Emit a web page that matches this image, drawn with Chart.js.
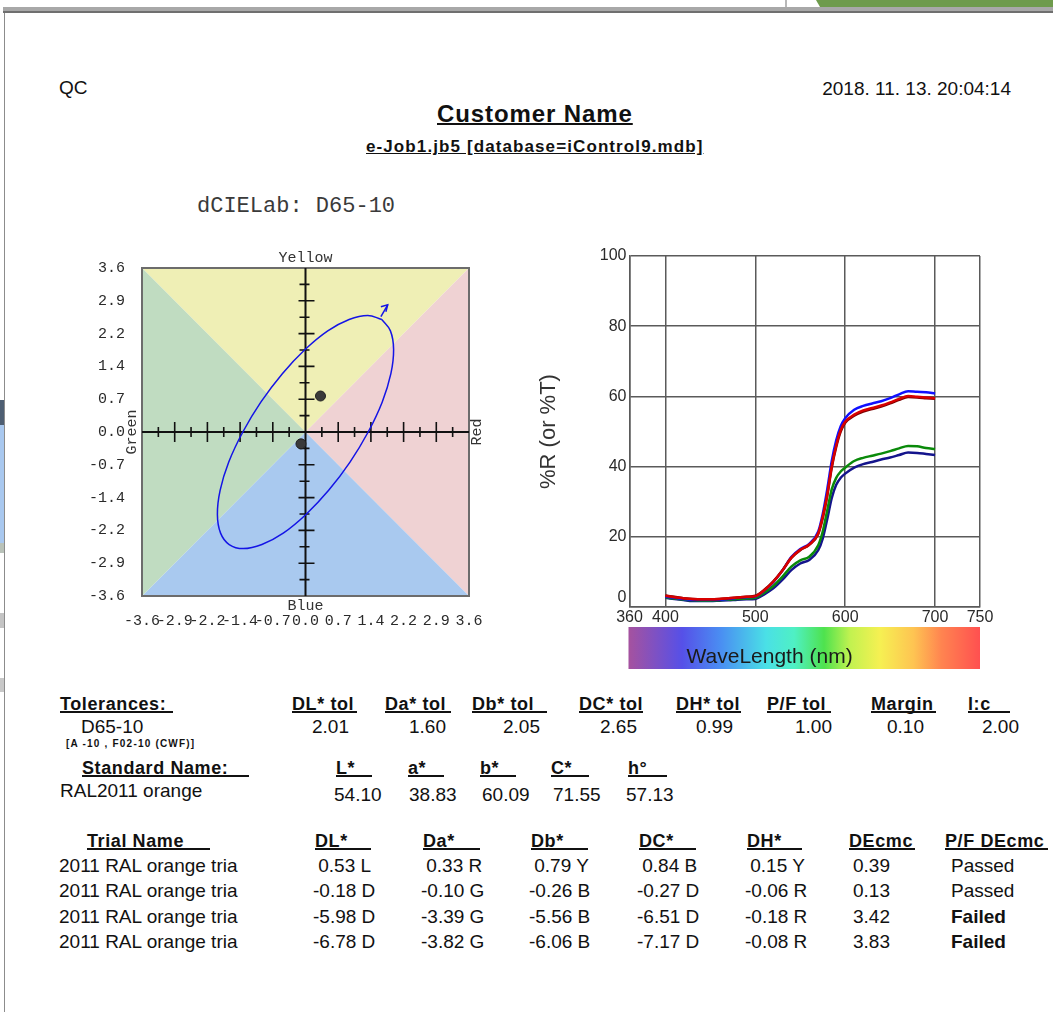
<!DOCTYPE html>
<html>
<head>
<meta charset="utf-8">
<script src="https://cdn.jsdelivr.net/npm/chart.js@4.4.1/dist/chart.umd.min.js"></script>
<style>
body{margin:0;width:1053px;height:1012px;position:relative;overflow:hidden;background:#fff;font-family:"Liberation Sans",Arial,sans-serif;color:#111}
.t{position:absolute;white-space:pre;line-height:22px;font-size:19px}
.h{position:absolute;white-space:pre;line-height:14px;font-size:18px;font-weight:bold;letter-spacing:0.6px;border-bottom:2px solid #111}
.f{position:absolute}
canvas{position:absolute}
</style>
</head>
<body>
<!-- window frame bits -->
<div class="f" style="left:785px;top:0;width:2px;height:7px;background:#b8b8b8"></div>
<div class="f" style="left:816px;top:0;width:237px;height:7px;background:#6e9b4c;clip-path:polygon(0 0,100% 0,100% 100%,4px 100%)"></div>
<div class="f" style="left:3px;top:7px;width:1050px;height:4px;background:#a8a8a8"></div>
<div class="f" style="left:3px;top:11px;width:1050px;height:2px;background:#6f6f6f"></div>
<div class="f" style="left:4px;top:13px;width:1px;height:999px;background:#8c8c8c"></div>
<div class="f" style="left:0;top:400px;width:4px;height:25px;background:#4e5e72"></div>
<div class="f" style="left:0;top:425px;width:4px;height:118px;background:#a9c8ef"></div>
<div class="f" style="left:0;top:543px;width:4px;height:10px;background:#b9c2b9"></div>
<div class="f" style="left:0;top:613px;width:4px;height:15px;background:#c4c4c4"></div>
<div class="f" style="left:0;top:678px;width:4px;height:14px;background:#c8c8c8"></div>

<div class="t" style="left:59px;top:77px">QC</div>
<div class="t" style="right:42px;top:78px">2018. 11. 13. 20:04:14</div>
<div class="t" style="left:437px;top:100px;font-size:24px;line-height:28px;font-weight:bold;letter-spacing:0.9px;text-decoration:underline;text-decoration-thickness:2px">Customer Name</div>
<div class="t" style="left:366px;top:138px;font-size:17px;line-height:18px;font-weight:bold;letter-spacing:1.1px;text-decoration:underline">e-Job1.jb5 [database=iControl9.mdb]</div>
<div class="t" style="left:197px;top:195px;font-family:'Liberation Mono',monospace;font-size:22px;line-height:24px;color:#3a3a3a">dCIELab: D65-10</div>

<canvas id="ab" width="470" height="400" style="left:40px;top:240px"></canvas>
<canvas id="spec" width="470" height="440" style="left:530px;top:240px"></canvas>

<script>
// ---- data ----
var abTicks = [-3.6, -2.88, -2.16, -1.44, -0.72, 0, 0.72, 1.44, 2.16, 2.88, 3.6];
// tolerance ellipse
var ellX = [1.68,1.37,0.96,0.49,-0.01,-0.51,-0.98,-1.38,-1.69,-1.88,-1.94,-1.87,-1.68,-1.37,-0.96,-0.49,0.01,0.51,0.98,1.38,1.69,1.88,1.94,1.87,1.68];
var ellY = [2.47,2.56,2.47,2.22,1.81,1.28,0.66,0.00,-0.66,-1.28,-1.81,-2.22,-2.47,-2.56,-2.47,-2.22,-1.81,-1.28,-0.66,0.00,0.66,1.28,1.81,2.22,2.47];
var arrowX = [1.66, 1.81];
var arrowY = [2.53, 2.79];
var headX = [1.66, 1.81, 1.77];
var headY = [2.75, 2.79, 2.64];

var tolHeaders = ['DL* tol','Da* tol','Db* tol','DC* tol','DH* tol','P/F tol','Margin','l:c'];
var tolValues = [2.01, 1.60, 2.05, 2.65, 0.99, 1.00, 0.10, 2.00];
var stdHeaders = ['L*','a*','b*','C*','h°'];
var stdValues = [54.10, 38.83, 60.09, 71.55, 57.13];
var trialHeaders = ['DL*','Da*','Db*','DC*','DH*','DEcmc','P/F DEcmc'];
var trialNames = ['2011 RAL orange tria','2011 RAL orange tria','2011 RAL orange tria','2011 RAL orange tria'];
var trialDL = [0.53, -0.18, -5.98, -6.78], tagDL = ['L','D','D','D'];
var trialDa = [0.33, -0.10, -3.39, -3.82], tagDa = ['R','G','G','G'];
var trialDb = [0.79, -0.26, -5.56, -6.06], tagDb = ['Y','B','B','B'];
var trialDC = [0.84, -0.27, -6.51, -7.17], tagDC = ['B','D','D','D'];
var trialDH = [0.15, -0.06, -0.18, -0.08], tagDH = ['Y','R','R','R'];
var trialDE = [0.39, 0.13, 3.42, 3.83];
var trialPF = ['Passed','Passed','Failed','Failed'];

var wlTicks = [360, 400, 500, 600, 700, 750];
var wl = [400,410,420,430,440,450,460,470,480,490,500,510,520,530,540,550,560,570,575,580,585,590,595,600,610,620,630,640,650,660,670,680,690,700];
var rStd = [3.2,2.8,2.5,2.3,2.2,2.2,2.3,2.5,2.7,2.9,3.1,4.8,7.2,10.3,14.0,16.3,17.8,21.0,25.7,32.0,40.0,46.0,50.4,52.8,54.8,56.0,56.7,57.4,58.3,59.3,60.1,59.9,59.7,59.5];
var rT1 = [2.9,2.6,2.3,2.0,2.0,2.0,2.1,2.3,2.6,2.8,3.0,4.7,7.1,10.3,14.2,16.5,18.0,21.5,26.5,33.5,41.5,47.5,51.5,53.8,56.2,57.3,58.0,58.6,59.5,60.6,61.5,61.3,61.2,60.8];
var rT2 = [3.3,2.9,2.5,2.3,2.2,2.2,2.3,2.5,2.7,2.9,3.2,4.9,7.3,10.4,14.0,16.2,17.7,20.8,25.3,31.6,39.6,45.6,50.0,52.5,54.5,55.7,56.4,57.1,58.0,59.0,59.8,59.7,59.5,59.3];
var rT3 = [2.8,2.4,2.1,1.9,1.8,1.8,1.9,2.1,2.3,2.4,2.6,4.1,6.0,8.6,11.5,13.3,14.3,17.6,21.5,27.5,33.5,36.8,38.6,39.7,41.6,42.5,43.1,43.7,44.4,45.2,45.9,45.8,45.3,45.0];
var rT4 = [2.6,2.3,2.0,1.7,1.7,1.7,1.8,1.9,2.1,2.2,2.3,3.6,5.3,7.7,10.5,12.4,13.4,16.2,19.5,25.0,31.0,34.8,36.8,38.0,39.7,40.7,41.3,42.0,42.6,43.3,44.0,43.9,43.6,43.3];

function pts(xs, ys) {
	return xs.map(function(v, i){ return {x: v, y: ys[i]}; });
}

// ---- text tables ----
function put(text, x, yc, size, bold) {
	var d = document.createElement('div');
	d.className = 't';
	d.textContent = text;
	d.style.left = x + 'px';
	d.style.top = (yc - 11) + 'px';
	if (size) d.style.fontSize = size + 'px';
	if (bold) d.style.fontWeight = 'bold';
	document.body.appendChild(d);
	return d;
}
function head(text, x, yc, xEnd) {
	var d = document.createElement('div');
	d.className = 'h';
	d.textContent = text;
	d.style.left = x + 'px';
	d.style.top = (yc - 7) + 'px';
	d.style.width = (xEnd - x) + 'px';
	document.body.appendChild(d);
}
function signed(v, tag) {
	return (v < 0 ? '' : ' ') + v.toFixed(2) + ' ' + tag;
}

head('Tolerances:', 60, 704, 173);
var tolX = [292, 385, 472, 579, 676, 767, 871, 968];
var tolEnd = [357, 451, 547, 643, 741, 831, 936, 1010];
var tolValX = [312, 409, 503, 600, 696, 795, 887, 982];
tolHeaders.forEach(function(h, i){
	head(h, tolX[i], 704, tolEnd[i]);
	put(tolValues[i].toFixed(2), tolValX[i], 727);
});
put('D65-10', 81, 727);
var sm = put('[A -10 , F02-10 (CWF)]', 66, 744, 10, true);
sm.style.letterSpacing = '1.2px';

head('Standard Name:', 82, 768, 249);
var stdX = [336, 408, 480, 551, 628];
var stdEnd = [372, 444, 516, 589, 667];
var stdValX = [334, 409, 482, 553, 626];
stdHeaders.forEach(function(h, i){
	head(h, stdX[i], 768, stdEnd[i]);
	put(stdValues[i].toFixed(2), stdValX[i], 795);
});
put('RAL2011 orange', 60, 791);

head('Trial Name', 87, 841, 210);
var trX = [315, 423, 531, 639, 747, 849, 945];
var trEnd = [371, 480, 588, 696, 802, 915, 1048];
trialHeaders.forEach(function(h, i){ head(h, trX[i], 841, trEnd[i]); });
var rowY = [866, 891, 916.5, 942];
var colX = [313, 421, 529, 637, 745];
trialNames.forEach(function(n, r){
	var y = rowY[r];
	put(n, 59, y);
	put(signed(trialDL[r], tagDL[r]), colX[0], y);
	put(signed(trialDa[r], tagDa[r]), colX[1], y);
	put(signed(trialDb[r], tagDb[r]), colX[2], y);
	put(signed(trialDC[r], tagDC[r]), colX[3], y);
	put(signed(trialDH[r], tagDH[r]), colX[4], y);
	put(trialDE[r].toFixed(2), 853, y);
	put(trialPF[r], 951, y, 19, trialPF[r] === 'Failed');
});

// ---- a*b* plot ----
var abBack = {
	id: 'abBack',
	beforeDatasetsDraw: function(chart) {
		var ctx = chart.ctx, xs = chart.scales.x, ys = chart.scales.y;
		var L = xs.getPixelForValue(abTicks[0]), R = xs.getPixelForValue(abTicks[abTicks.length - 1]);
		var T = ys.getPixelForValue(abTicks[abTicks.length - 1]), B = ys.getPixelForValue(abTicks[0]);
		var cx = xs.getPixelForValue(0), cy = ys.getPixelForValue(0);
		function tri(x1, y1, x2, y2, col) {
			ctx.beginPath(); ctx.moveTo(x1, y1); ctx.lineTo(x2, y2); ctx.lineTo(cx, cy); ctx.closePath();
			ctx.fillStyle = col; ctx.fill();
		}
		ctx.save();
		tri(L, T, R, T, '#efefb5');
		tri(R, T, R, B, '#efd2d3');
		tri(R, B, L, B, '#a9c9ef');
		tri(L, B, L, T, '#c0dcc1');
		ctx.strokeStyle = '#6c6c6c'; ctx.lineWidth = 2;
		ctx.strokeRect(L, T, R - L, B - T);
		ctx.strokeStyle = '#111'; ctx.lineWidth = 2;
		ctx.beginPath(); ctx.moveTo(L, cy); ctx.lineTo(R, cy); ctx.moveTo(cx, T); ctx.lineTo(cx, B); ctx.stroke();
		ctx.lineWidth = 1.6;
		ctx.beginPath();
		for (var i = 0; i < abTicks.length; i++) {
			var v = abTicks[i];
			if (i > 0 && i < abTicks.length - 1 && v !== 0) {
				var px = xs.getPixelForValue(v), py = ys.getPixelForValue(v);
				ctx.moveTo(px, cy - 10); ctx.lineTo(px, cy + 10);
				ctx.moveTo(cx - 7, py); ctx.lineTo(cx + 9, py);
			}
			if (i > 0) {
				var m = (abTicks[i - 1] + v) / 2;
				var mx = xs.getPixelForValue(m), my = ys.getPixelForValue(m);
				ctx.moveTo(mx, cy - 5); ctx.lineTo(mx, cy + 5);
				ctx.moveTo(cx - 6, my); ctx.lineTo(cx + 4, my);
			}
		}
		ctx.stroke();
		ctx.fillStyle = '#333';
		ctx.font = '15px "Liberation Mono"';
		ctx.textAlign = 'center'; ctx.textBaseline = 'middle';
		ctx.fillText('Yellow', cx, T - 10);
		ctx.fillText('Blue', cx, B + 10);
		ctx.save(); ctx.translate(L - 10, cy); ctx.rotate(-Math.PI / 2); ctx.fillText('Green', 0, 0); ctx.restore();
		ctx.save(); ctx.translate(R + 8, cy); ctx.rotate(-Math.PI / 2); ctx.fillText('Red', 0, 0); ctx.restore();
		ctx.restore();
	}
};

var monoTicks = {
	color: '#2a2a2a',
	font: {family: 'Liberation Mono', size: 15},
	autoSkip: false,
	maxRotation: 0,
	minRotation: 0,
	callback: function(v){ return Number(v).toFixed(1); }
};

new Chart(document.getElementById('ab'), {
	type: 'scatter',
	data: {
		datasets: [
			{data: pts(trialDa, trialDb), pointRadius: 5, pointBackgroundColor: '#3a3a3a', pointBorderColor: '#222', pointBorderWidth: 1},
			{data: pts(ellX, ellY), showLine: true, tension: 0.4, borderColor: '#1414e6', borderWidth: 1.5, pointRadius: 0},
			{data: pts(arrowX, arrowY), showLine: true, borderColor: '#1414e6', borderWidth: 1.5, pointRadius: 0},
			{data: pts(headX, headY), showLine: true, borderColor: '#1414e6', borderWidth: 1.5, pointRadius: 0}
		]
	},
	options: {
		responsive: false,
		animation: false,
		devicePixelRatio: 1,
		layout: {padding: {top: 28, right: 41, left: 0, bottom: 0}},
		plugins: {legend: {display: false}, tooltip: {enabled: false}},
		scales: {
			x: {
				type: 'linear', min: -3.6, max: 3.6,
				grid: {display: false, drawTicks: false}, border: {display: false},
				ticks: Object.assign({padding: 16}, monoTicks),
				afterBuildTicks: function(s){ s.ticks = abTicks.map(function(v){ return {value: v}; }); },
				afterFit: function(s){ s.height = 44; }
			},
			y: {
				type: 'linear', min: -3.6, max: 3.6,
				grid: {display: false, drawTicks: false}, border: {display: false},
				ticks: Object.assign({padding: 17}, monoTicks),
				afterBuildTicks: function(s){ s.ticks = abTicks.map(function(v){ return {value: v}; }); },
				afterFit: function(s){ s.width = 102; }
			}
		}
	},
	plugins: [abBack]
});

// ---- spectral plot ----
var wlBar = {
	id: 'wlBar',
	beforeDraw: function(chart) {
		var ctx = chart.ctx, a = chart.chartArea;
		var top = a.bottom + 20, h = 42;
		var g = ctx.createLinearGradient(a.left, 0, a.right, 0);
		g.addColorStop(0, '#a452a0');
		g.addColorStop(0.15, '#5650e8');
		g.addColorStop(0.26, '#4a8ef2');
		g.addColorStop(0.39, '#4ae0e6');
		g.addColorStop(0.47, '#4ff0c4');
		g.addColorStop(0.555, '#4ee24e');
		g.addColorStop(0.63, '#c2f250');
		g.addColorStop(0.715, '#f6f052');
		g.addColorStop(0.81, '#fec452');
		g.addColorStop(0.89, '#ff8450');
		g.addColorStop(1, '#ff5050');
		ctx.save();
		ctx.fillStyle = g;
		ctx.fillRect(a.left - 1, top, a.right - a.left + 1, h);
		ctx.fillStyle = '#1a1a1a';
		ctx.font = '21px "Liberation Sans"';
		ctx.textAlign = 'left'; ctx.textBaseline = 'middle';
		ctx.fillText('WaveLength (nm)', a.left + 57, top + 30);
		ctx.restore();
	}
};

function curve(vals, col) {
	return {data: pts(wl, vals), borderColor: col, borderWidth: 2.5, pointRadius: 0, tension: 0, cubicInterpolationMode: 'monotone'};
}

new Chart(document.getElementById('spec'), {
	type: 'line',
	data: {
		datasets: [
			curve(rStd, '#d80000'),
			curve(rT2, '#7c0000'),
			curve(rT1, '#1010ff'),
			curve(rT3, '#0a8a0a'),
			curve(rT4, '#14148c')
		]
	},
	options: {
		responsive: false,
		animation: false,
		devicePixelRatio: 1,
		layout: {padding: {top: 16, right: 20, left: 0, bottom: 0}},
		plugins: {legend: {display: false}, tooltip: {enabled: false}},
		scales: {
			x: {
				type: 'linear', min: 360, max: 750,
				grid: {color: '#5a5a5a', lineWidth: 1.5, drawTicks: false},
				border: {color: '#5a5a5a', width: 1.5},
				ticks: {color: '#2a2a2a', font: {family: 'Liberation Sans', size: 16}, padding: 1, autoSkip: false, maxRotation: 0},
				afterBuildTicks: function(s){ s.ticks = wlTicks.map(function(v){ return {value: v}; }); },
				afterFit: function(s){ s.height = 73; }
			},
			y: {
				min: 0, max: 100,
				grid: {color: '#5a5a5a', lineWidth: 1.5, drawTicks: false},
				border: {color: '#5a5a5a', width: 1.5},
				ticks: {stepSize: 20, color: '#2a2a2a', font: {family: 'Liberation Sans', size: 16}, padding: 3,
					callback: function(v){ return v === 0 ? ['0', ''] : String(v); }},
				title: {display: true, text: '%R (or %T)', color: '#333', font: {family: 'Liberation Sans', size: 22}, padding: {top: 6, bottom: 0}},
				afterFit: function(s){ s.width = 99.5; }
			}
		}
	},
	plugins: [wlBar]
});
</script>
</body>
</html>
